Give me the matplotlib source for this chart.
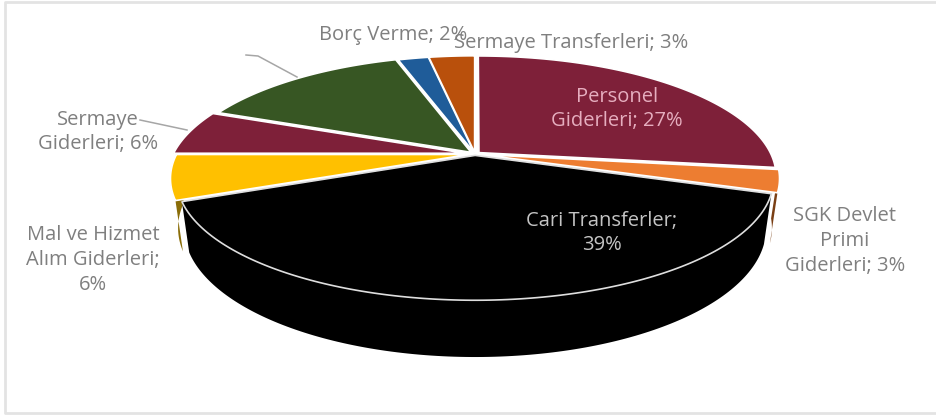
import numpy as np
import matplotlib
matplotlib.use("Agg")
import matplotlib.pyplot as plt

plt.rcParams['font.family'] = ['Open Sans', 'DejaVu Sans']

# slices, clockwise from 12 o'clock
names = ["Personel Giderleri", "SGK Devlet Primi Giderleri", "Cari Transferler",
         "Mal ve Hizmet Alım Giderleri", "Sermaye Giderleri", "Diğer",
         "Borç Verme", "Sermaye Transferleri"]
values = [27, 3, 39, 6, 6, 14, 2, 3]
colors = ["#7e2039", "#ed7d31", "#000000", "#ffc000", "#7e2039", "#375623", "#1f5c99", "#b9500c"]
wall_colors = ["#5a1628", "#7a3f14", "#000000", "#8a6d08", "#5a1628", "#26401a", "#17446f", "#7f3808"]
edge_colors = ["white", "white", "#dedede", "white", "white", "white", "white", "white"]
explode = [0.018, 0.022, 0.012, 0.022, 0.034, 0.02, 0.014, 0.014]

# position of each label (centre, pixels), None = no label shown
label_text = ["Personel\nGiderleri; 27%", "SGK Devlet\nPrimi\nGiderleri; 3%", "Cari Transferler;\n39%",
              "Mal ve Hizmet\nAlım Giderleri;\n6%", "Sermaye\nGiderleri; 6%", None,
              "Borç Verme; 2%", "Sermaye Transferleri; 3%"]
label_pos = [(617, 109), (845, 241), (602, 233), (93, 260), (98, 132), None, (393, 35), (571, 43)]
label_col = ["#e6aebf", "#7f7f7f", "#c4c4c4", "#7f7f7f", "#7f7f7f", None, "#7f7f7f", "#7f7f7f"]

CX, CY = 475, 154
RX, RY = 292, 116
Q = 0.195


def project(c, s, low=False):
    # simple perspective: s > 0 means towards the viewer
    w = 1 - Q * s
    x = RX * c / w
    y = RY * s / w
    if low:
        return CX + x * 0.975, CY + y * 1.06 + 48
    return CX + x, CY + y


fig = plt.figure(figsize=(9.37, 4.15), dpi=100)
ax = fig.add_axes([0, 0, 1, 1])
ax.set_xlim(0, 937)
ax.set_ylim(415, 0)
ax.axis('off')

# chart frame
ax.plot([937, 5, 5, 937], [2, 2, 413, 413], color="#e3e3e3", lw=2)

fracs = np.cumsum([0] + values) / sum(values)
order = [5, 6, 7, 4, 0, 3, 1, 2]

# side walls first, only the ones facing the viewer show
for i in order:
    a = np.linspace(90 - 360 * fracs[i], 90 - 360 * fracs[i + 1], 150)
    mid = np.radians(a.mean())
    dc, ds = explode[i] * np.cos(mid), -explode[i] * np.sin(mid)
    c = np.cos(np.radians(a)) + dc
    s = -np.sin(np.radians(a)) + ds
    if s.mean() <= 0:
        continue
    x1, y1 = project(c, s)
    x2, y2 = project(c, s, low=True)
    ax.fill(np.r_[x1, x2[::-1]], np.r_[y1, y2[::-1]], color=wall_colors[i], lw=0)

# top faces
for i in order:
    a = np.linspace(90 - 360 * fracs[i], 90 - 360 * fracs[i + 1], 150)
    mid = np.radians(a.mean())
    dc, ds = explode[i] * np.cos(mid), -explode[i] * np.sin(mid)
    c = np.r_[0, np.cos(np.radians(a)), 0] + dc
    s = np.r_[0, -np.sin(np.radians(a)), 0] + ds
    x, y = project(c, s)
    ax.fill(x, y, facecolor=colors[i], edgecolor=edge_colors[i], lw=1.2, joinstyle='miter')

# leader lines
ax.plot([246, 258, 297], [55, 56, 77], color="#a6a6a6", lw=1.1)
ax.plot([140, 187], [120, 130], color="#a6a6a6", lw=1.1)

for txt, pos, col in zip(label_text, label_pos, label_col):
    if txt is None:
        continue
    ax.text(pos[0], pos[1], txt, ha='center', va='center', color=col, fontsize=14.5,
            linespacing=1.33)

fig.savefig("out.png", dpi=100)
